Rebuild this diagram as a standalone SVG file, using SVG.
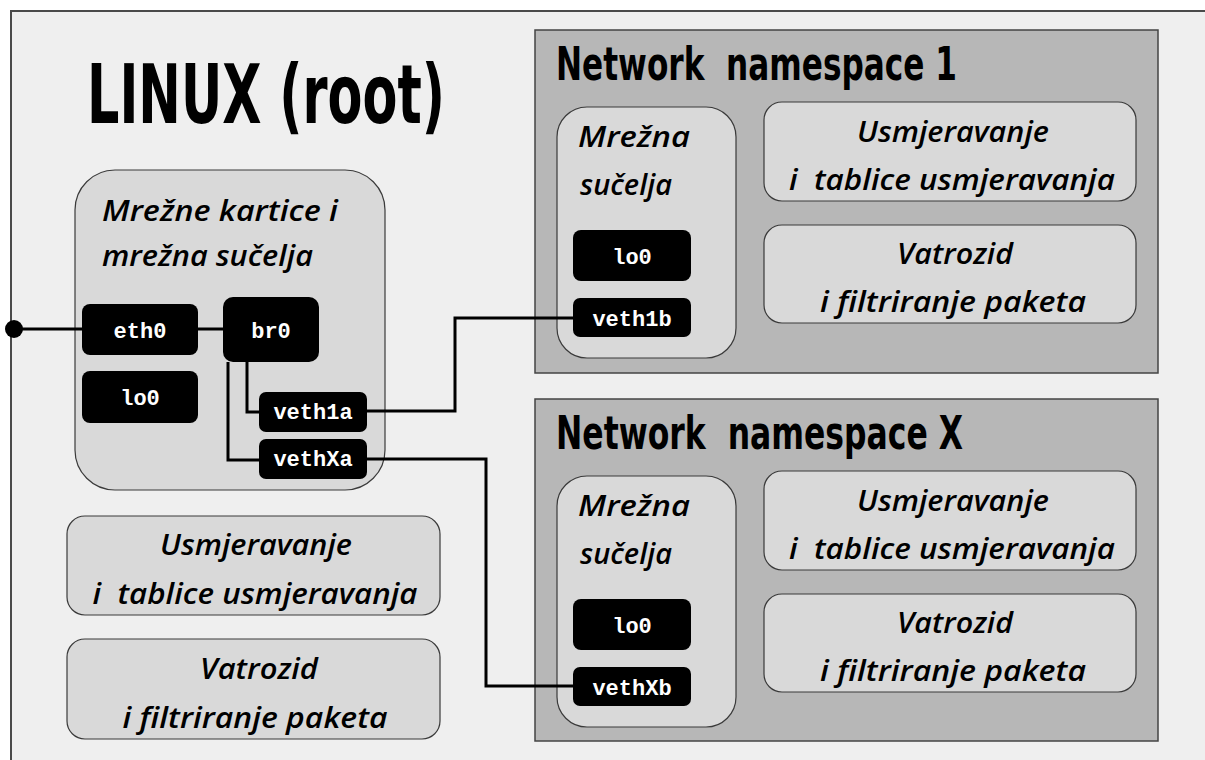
<svg xmlns="http://www.w3.org/2000/svg" width="1205" height="760" viewBox="0 0 1205 760">
<style>
.frame{fill:#efefef;stroke:#4a4a4a;stroke-width:2}
.ns{fill:#b7b7b7;stroke:#444;stroke-width:1.5}
.box{fill:#d9d9d9;stroke:#3a3a3a;stroke-width:1.2}
.chip{fill:#000}
.title{font-family:"DejaVu Sans",sans-serif;font-weight:bold;fill:#000;white-space:pre}
.hand{font-family:"Open Sans","Noto Sans",sans-serif;font-style:italic;font-weight:600;font-size:28px;fill:#000;white-space:pre}
.mono{font-family:"Liberation Mono",monospace;font-weight:bold;font-size:22px;fill:#fff;text-anchor:middle}
.wire{fill:none;stroke:#000;stroke-width:3}
</style>
<rect x="0" y="0" width="1205" height="760" fill="#fff"/>
<rect class="frame" x="11" y="11" width="1210" height="760"/>

<g id="root-title">
<text class="title" x="87" y="123" font-size="82" textLength="358" lengthAdjust="spacingAndGlyphs">LINUX (root)</text>
</g>

<g id="root-interfaces">
<rect class="box" x="75" y="170" width="310" height="320" rx="40"/>
<text class="hand" x="102" y="221" textLength="236" lengthAdjust="spacingAndGlyphs">Mrežne kartice i</text>
<text class="hand" x="102" y="266" textLength="211" lengthAdjust="spacingAndGlyphs">mrežna sučelja</text>
</g>
<g id="eth0"><rect class="chip" x="82" y="304" width="116" height="51" rx="8"/><text class="mono" x="140" y="338">eth0</text></g>
<g id="lo0-root"><rect class="chip" x="82" y="371" width="116" height="52" rx="8"/><text class="mono" x="140" y="405">lo0</text></g>
<g id="br0"><rect class="chip" x="223" y="297" width="96" height="65" rx="10"/><text class="mono" x="271" y="338">br0</text></g>
<g id="veth1a"><rect class="chip" x="259" y="392" width="108" height="40" rx="7"/><text class="mono" x="313" y="419">veth1a</text></g>
<g id="vethXa"><rect class="chip" x="259" y="439" width="108" height="40" rx="7"/><text class="mono" x="313" y="466">vethXa</text></g>

<g id="root-routing">
<rect class="box" x="67" y="516" width="373" height="99" rx="18"/>
<text class="hand" x="256" y="555" text-anchor="middle" textLength="192" lengthAdjust="spacingAndGlyphs">Usmjeravanje</text>
<text class="hand" x="255" y="604" text-anchor="middle" textLength="325" lengthAdjust="spacingAndGlyphs">i  tablice usmjeravanja</text>
</g>
<g id="root-firewall">
<rect class="box" x="67" y="639" width="373" height="100" rx="18"/>
<text class="hand" x="259" y="679" text-anchor="middle" textLength="118" lengthAdjust="spacingAndGlyphs">Vatrozid</text>
<text class="hand" x="255" y="728" text-anchor="middle" textLength="265" lengthAdjust="spacingAndGlyphs">i filtriranje paketa</text>
</g>

<g id="ns1">
<rect class="ns" x="535" y="30" width="623" height="343"/>
<text class="title" x="556" y="80" font-size="46" textLength="401" lengthAdjust="spacingAndGlyphs">Network  namespace 1</text>
</g>
<g id="ns1-interfaces">
<rect class="box" x="557" y="107" width="179" height="251" rx="30"/>
<text class="hand" x="578" y="147" textLength="112" lengthAdjust="spacingAndGlyphs">Mrežna</text>
<text class="hand" x="580" y="195" textLength="92" lengthAdjust="spacingAndGlyphs">sučelja</text>
</g>
<g id="lo0-ns1"><rect class="chip" x="573" y="230" width="118" height="51" rx="8"/><text class="mono" x="632" y="264">lo0</text></g>
<g id="veth1b"><rect class="chip" x="573" y="298" width="118" height="39" rx="7"/><text class="mono" x="632" y="326">veth1b</text></g>
<g id="ns1-routing">
<rect class="box" x="764" y="102" width="372" height="99" rx="18"/>
<text class="hand" x="953" y="142" text-anchor="middle" textLength="192" lengthAdjust="spacingAndGlyphs">Usmjeravanje</text>
<text class="hand" x="952" y="190" text-anchor="middle" textLength="326" lengthAdjust="spacingAndGlyphs">i  tablice usmjeravanja</text>
</g>
<g id="ns1-firewall">
<rect class="box" x="764" y="225" width="372" height="98" rx="18"/>
<text class="hand" x="955" y="264" text-anchor="middle" textLength="116" lengthAdjust="spacingAndGlyphs">Vatrozid</text>
<text class="hand" x="953" y="312" text-anchor="middle" textLength="266" lengthAdjust="spacingAndGlyphs">i filtriranje paketa</text>
</g>

<g id="nsX">
<rect class="ns" x="535" y="399" width="623" height="342"/>
<text class="title" x="556" y="449" font-size="46" textLength="407" lengthAdjust="spacingAndGlyphs">Network  namespace X</text>
</g>
<g id="nsX-interfaces">
<rect class="box" x="557" y="476" width="179" height="251" rx="30"/>
<text class="hand" x="578" y="516" textLength="112" lengthAdjust="spacingAndGlyphs">Mrežna</text>
<text class="hand" x="580" y="564" textLength="92" lengthAdjust="spacingAndGlyphs">sučelja</text>
</g>
<g id="lo0-nsX"><rect class="chip" x="573" y="599" width="118" height="51" rx="8"/><text class="mono" x="632" y="633">lo0</text></g>
<g id="vethXb"><rect class="chip" x="573" y="667" width="118" height="39" rx="7"/><text class="mono" x="632" y="695">vethXb</text></g>
<g id="nsX-routing">
<rect class="box" x="764" y="471" width="372" height="99" rx="18"/>
<text class="hand" x="953" y="511" text-anchor="middle" textLength="192" lengthAdjust="spacingAndGlyphs">Usmjeravanje</text>
<text class="hand" x="952" y="559" text-anchor="middle" textLength="326" lengthAdjust="spacingAndGlyphs">i  tablice usmjeravanja</text>
</g>
<g id="nsX-firewall">
<rect class="box" x="764" y="594" width="372" height="98" rx="18"/>
<text class="hand" x="955" y="633" text-anchor="middle" textLength="116" lengthAdjust="spacingAndGlyphs">Vatrozid</text>
<text class="hand" x="953" y="681" text-anchor="middle" textLength="266" lengthAdjust="spacingAndGlyphs">i filtriranje paketa</text>
</g>

<g id="connectors">
<circle cx="14" cy="329" r="9" fill="#000"/>
<path class="wire" d="M14,329 H82"/>
<path class="wire" d="M198,329 H223"/>
<path class="wire" d="M247,362 V412 H259"/>
<path class="wire" d="M228,362 V460 H259"/>
<path class="wire" d="M367,411 H455 V318 H573"/>
<path class="wire" d="M367,459 H486 V686 H573"/>
</g>
</svg>
